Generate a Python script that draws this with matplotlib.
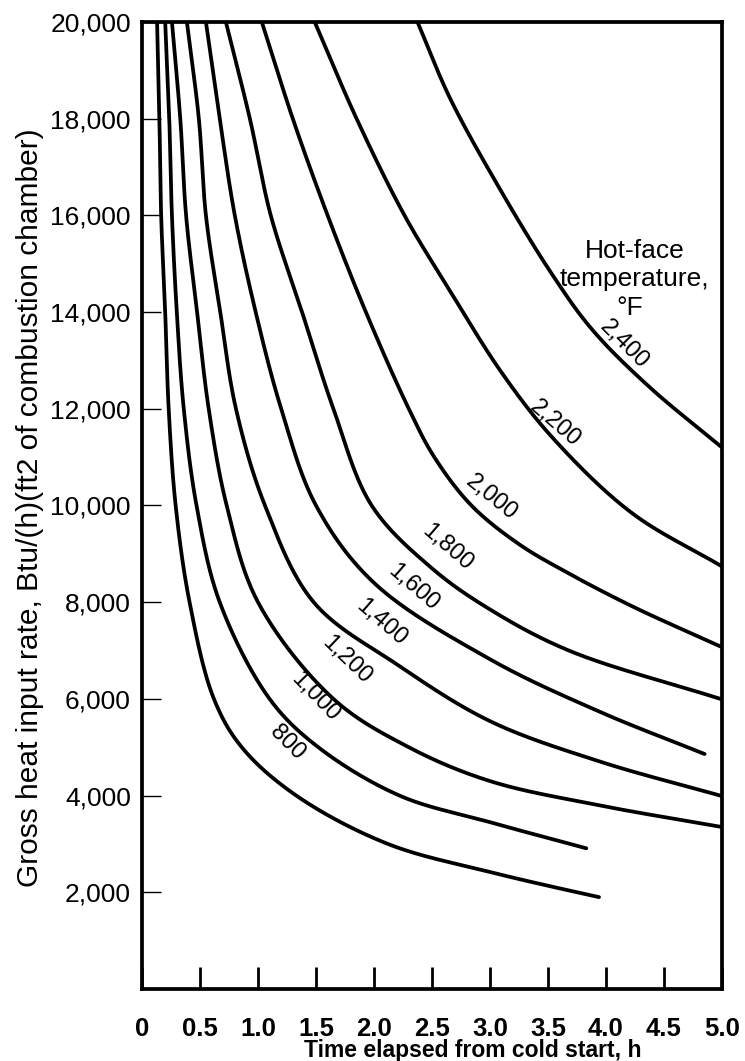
import numpy as np
import matplotlib
matplotlib.use('Agg')
import matplotlib.pyplot as plt

plt.rcParams['font.family'] = ['Liberation Sans', 'DejaVu Sans']

# hours after cold start / gross heat input for each hot-face temperature
hours_800 = [0.13, 0.15, 0.165, 0.20, 0.23, 0.29, 0.41, 0.62, 0.86, 1.33, 2.12, 3.0, 3.75, 3.94]
heat_800 = [20000, 18000, 16000, 14000, 12000, 10000, 8000, 6000, 5000, 4000, 3000, 2420, 2000, 1900]

hours_1000 = [0.20, 0.235, 0.258, 0.30, 0.36, 0.47, 0.67, 1.10, 1.52, 2.22, 3.0, 3.83]
heat_1000 = [20000, 18000, 16000, 14000, 12000, 10000, 8000, 6000, 5000, 4000, 3450, 2910]

hours_1200 = [0.258, 0.33, 0.38, 0.475, 0.575, 0.73, 1.0, 1.65, 2.3, 3.0, 3.94, 5.0]
heat_1200 = [20000, 18000, 16000, 14000, 12000, 10000, 8000, 6000, 5000, 4300, 3800, 3350]

hours_1400 = [0.387, 0.49, 0.551, 0.675, 0.81, 1.06, 1.48, 2.2, 3.0, 3.94, 5.0]
heat_1400 = [20000, 18000, 16000, 14000, 12000, 10000, 8000, 6710, 5540, 4710, 3990]

hours_1600 = [0.551, 0.67, 0.80, 0.98, 1.2, 1.5, 2.0, 3.0, 3.94, 4.85]
heat_1600 = [20000, 18000, 16000, 14000, 12000, 10000, 8400, 6820, 5740, 4860]

hours_1800 = [0.723, 0.93, 1.11, 1.38, 1.65, 1.98, 2.5, 3.0, 3.68, 5.0]
heat_1800 = [20000, 18000, 16000, 14000, 12000, 10000, 8700, 7850, 7000, 5990]

hours_2000 = [1.033, 1.30, 1.60, 1.93, 2.30, 2.52, 2.84, 3.25, 3.66, 4.23, 5.0]
heat_2000 = [20000, 18000, 16000, 14000, 12000, 11000, 10000, 9200, 8620, 7910, 7070]

hours_2200 = [1.489, 1.85, 2.263, 2.65, 3.1, 3.54, 4.22, 5.0]
heat_2200 = [20000, 18000, 16000, 14460, 12750, 11400, 9850, 8740]

hours_2400 = [2.375, 2.65, 3.06, 3.53, 3.88, 4.37, 5.0]
heat_2400 = [20000, 18450, 16650, 14800, 13640, 12460, 11200]

curve_names = ['800', '1,000', '1,200', '1,400', '1,600', '1,800', '2,000', '2,200', '2,400']
label_hours = [1.249, 1.490, 1.766, 2.067, 2.343, 2.636, 3.015, 3.557, 4.160]
label_heat = [5090, 6040, 6800, 7570, 8310, 9140, 10160, 11700, 13320]
label_angles = [-45, -46, -44, -41, -41, -41, -39, -41, -45]

x_ticks = [0, 0.5, 1.0, 1.5, 2.0, 2.5, 3.0, 3.5, 4.0, 4.5, 5.0]
x_tick_labels = ['0', '0.5', '1.0', '1.5', '2.0', '2.5', '3.0', '3.5', '4.0', '4.5', '5.0']
y_ticks = [2000, 4000, 6000, 8000, 10000, 12000, 14000, 16000, 18000, 20000]
y_tick_labels = ['2,000', '4,000', '6,000', '8,000', '10,000', '12,000', '14,000', '16,000', '18,000', '20,000']


def smooth_curve(xs, ys, steps=40):
    # centripetal Catmull-Rom through the points, in screen-like units
    sx, sy = 580 / 5.0, 967 / 20000.0
    pts = np.column_stack([np.asarray(xs, float) * sx, np.asarray(ys, float) * sy])
    pts = np.vstack([2 * pts[0] - pts[1], pts, 2 * pts[-1] - pts[-2]])
    out = []
    for i in range(1, len(pts) - 2):
        p0, p1, p2, p3 = pts[i - 1], pts[i], pts[i + 1], pts[i + 2]
        t0 = 0.0
        t1 = t0 + np.linalg.norm(p1 - p0) ** 0.5
        t2 = t1 + np.linalg.norm(p2 - p1) ** 0.5
        t3 = t2 + np.linalg.norm(p3 - p2) ** 0.5
        t = np.linspace(t1, t2, steps, endpoint=False)[:, None]
        a1 = (t1 - t) / (t1 - t0) * p0 + (t - t0) / (t1 - t0) * p1
        a2 = (t2 - t) / (t2 - t1) * p1 + (t - t1) / (t2 - t1) * p2
        a3 = (t3 - t) / (t3 - t2) * p2 + (t - t2) / (t3 - t2) * p3
        b1 = (t2 - t) / (t2 - t0) * a1 + (t - t0) / (t2 - t0) * a2
        b2 = (t3 - t) / (t3 - t1) * a2 + (t - t1) / (t3 - t1) * a3
        out.append((t2 - t) / (t2 - t1) * b1 + (t - t1) / (t2 - t1) * b2)
    out.append(pts[-2][None, :])
    out = np.vstack(out)
    return out[:, 0] / sx, out[:, 1] / sy


fig = plt.figure(figsize=(7.45, 10.61), dpi=100)
ax = fig.add_axes([142 / 745, 1 - 989 / 1061, 580 / 745, 967 / 1061])

curves = [
    (hours_800, heat_800), (hours_1000, heat_1000), (hours_1200, heat_1200),
    (hours_1400, heat_1400), (hours_1600, heat_1600), (hours_1800, heat_1800),
    (hours_2000, heat_2000), (hours_2200, heat_2200), (hours_2400, heat_2400),
]
for hrs, heat in curves:
    cx, cy = smooth_curve(hrs, heat)
    ax.plot(cx, cy, color='black', linewidth=2.7, solid_capstyle='round')

for name, lx, ly, ang in zip(curve_names, label_hours, label_heat, label_angles):
    ax.text(lx, ly, name, rotation=ang, rotation_mode='anchor', ha='center', va='center',
            fontsize=17, color='black')

ax.text(4.246, 15260, 'Hot-face', ha='center', va='center', fontsize=19)
ax.text(4.246, 14680, 'temperature,', ha='center', va='center', fontsize=19)
ax.text(4.20, 14080, '°F', ha='center', va='center', fontsize=19)

ax.set_xlim(0, 5.0)
ax.set_ylim(0, 20000)

ax.set_xticks(x_ticks)
ax.set_xticklabels(x_tick_labels, family=['Liberation Sans Narrow', 'Liberation Sans'],
                   fontweight='bold', fontsize=18.5)
ax.set_yticks(y_ticks)
ax.set_yticklabels(y_tick_labels, fontsize=19)

ax.tick_params(axis='x', direction='in', length=16, width=2, pad=20)
ax.tick_params(axis='y', direction='in', length=14, width=1, pad=8)
for side in ['left', 'right', 'top', 'bottom']:
    ax.spines[side].set_linewidth(2.7)

fig.text(473 / 745, 1 - 1050 / 1061, 'Time elapsed from cold start, h', ha='center', va='center',
         family=['Liberation Sans Narrow', 'Liberation Sans'], fontweight='bold', fontsize=16.5)
fig.text(30 / 745, 1 - 508 / 1061, 'Gross heat input rate, Btu/(h)(ft2 of combustion chamber)',
         rotation=90, ha='center', va='center', fontsize=21.5)

fig.savefig('out.png', dpi=100)
